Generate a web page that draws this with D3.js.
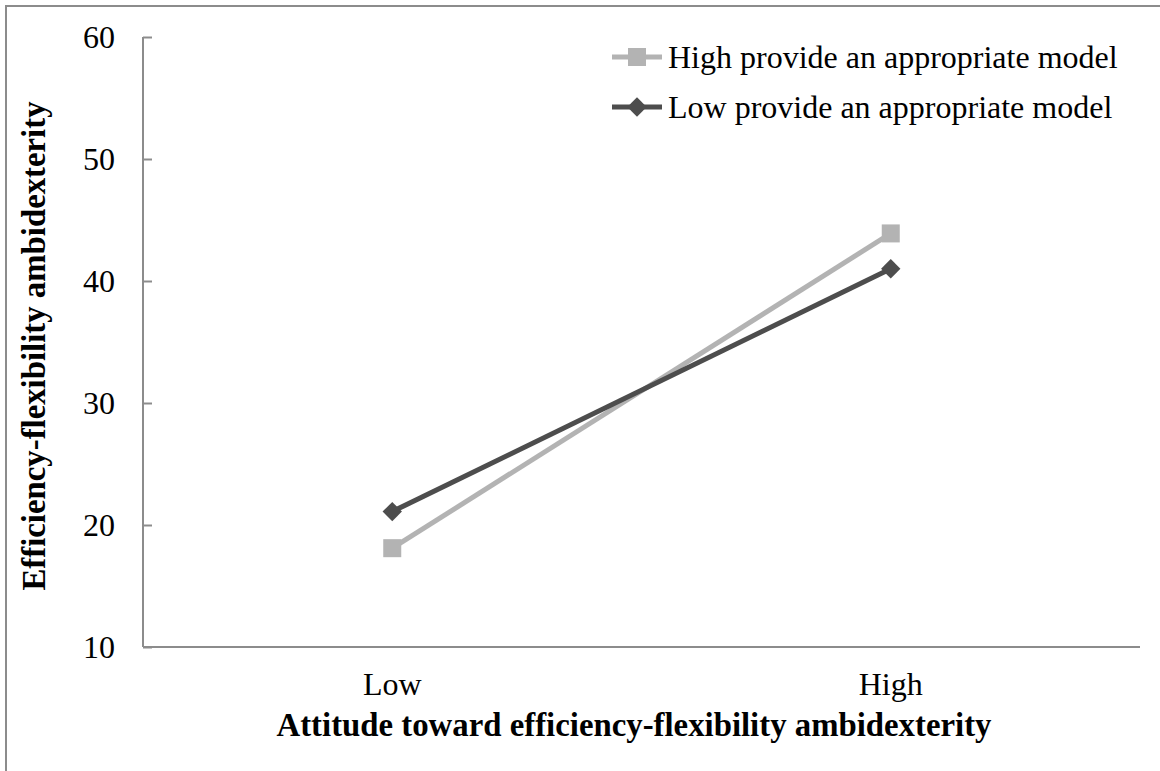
<!DOCTYPE html>
<html>
<head>
<meta charset="utf-8">
<script src="https://cdn.jsdelivr.net/npm/d3@7"></script>
<style>
  body { margin: 0; background: #fff; }
  svg { display: block; font-family: "Liberation Serif", "Times New Roman", serif; }
</style>
</head>
<body>
<div class="chart"></div>
<script>
const categories = ['Low', 'High']
const seriesNames = ['High provide an appropriate model', 'Low provide an appropriate model']
const highProvide = [18.1, 43.9]
const lowProvide = [21.1, 41.0]
const yTicks = [10, 20, 30, 40, 50, 60]

const svg = d3.select('.chart')
    .append('svg')
        .attr('width', 1160)
        .attr('height', 771)

// outer frame (right/bottom edges fall outside the picture)
svg.append('path')
    .attr('d', 'M6,771 V6 H1160')
    .style('fill', 'none')
    .style('stroke', '#8c8c8c')
    .style('stroke-width', 2)

const x = d3.scalePoint()
    .domain(categories)
    .range([143, 1140])
    .padding(0.5)

const y = d3.scaleLinear()
    .domain([10, 60])
    .range([647, 37])

const series = [
    { name: seriesNames[0], values: highProvide, color: '#b3b3b3', marker: 'square' },
    { name: seriesNames[1], values: lowProvide, color: '#4d4d4d', marker: 'diamond' }
]

//y axis
const yAxis = svg.append('g')
    .attr('transform', 'translate(143, 0)')
    .call(d3.axisRight(y).tickValues(yTicks).tickSize(9).tickFormat(d => d))
yAxis.select('.domain').remove()
yAxis.selectAll('line').style('stroke', '#8c8c8c').style('stroke-width', 2)
yAxis.selectAll('text')
    .attr('x', -28)
    .attr('text-anchor', 'end')
    .style('font-family', '"Liberation Serif", serif')
    .style('font-size', '32px')
    .style('fill', '#000')

svg.append('line')
    .attr('x1', 143).attr('x2', 143)
    .attr('y1', y(60)).attr('y2', y(10))
    .style('stroke', '#8c8c8c').style('stroke-width', 2)

//x axis
svg.append('line')
    .attr('x1', 143).attr('x2', 1140)
    .attr('y1', y(10)).attr('y2', y(10))
    .style('stroke', '#8c8c8c').style('stroke-width', 2)

svg.append('g')
    .selectAll('text')
    .data(categories)
    .enter()
    .append('text')
        .attr('x', d => x(d))
        .attr('y', 695)
        .attr('text-anchor', 'middle')
        .style('font-size', '32px')
        .text(d => d)

svg.append('text')
    .attr('x', 634)
    .attr('y', 736)
    .attr('text-anchor', 'middle')
    .style('font-size', '32.8px')
    .style('font-weight', 'bold')
    .text('Attitude toward efficiency-flexibility ambidexterity')

svg.append('text')
    .attr('transform', 'translate(45, 346) rotate(-90)')
    .attr('text-anchor', 'middle')
    .style('font-size', '32.8px')
    .style('font-weight', 'bold')
    .text('Efficiency-flexibility ambidexterity')

//lines and markers
const line = d3.line()
    .x((d, i) => x(categories[i]))
    .y(d => y(d))

const drawMarker = (g, type, color, cx, cy) => {
    if (type === 'square') {
        g.append('rect')
            .attr('x', cx - 9).attr('y', cy - 9)
            .attr('width', 18).attr('height', 18)
            .style('fill', color)
    } else {
        g.append('path')
            .attr('d', d3.symbol(d3.symbolDiamond2, 240)())
            .attr('transform', `translate(${cx},${cy})`)
            .style('fill', color)
    }
}

series.forEach(s => {
    const g = svg.append('g')
    g.append('path')
        .attr('d', line(s.values))
        .style('fill', 'none')
        .style('stroke', s.color)
        .style('stroke-width', 5)
    s.values.forEach((v, i) => drawMarker(g, s.marker, s.color, x(categories[i]), y(v)))
})

//legend
const legend = svg.append('g')
    .attr('transform', 'translate(612, 57)')

series.forEach((s, i) => {
    const g = legend.append('g')
        .attr('transform', `translate(0, ${i * 50})`)
    g.append('line')
        .attr('x1', 0).attr('x2', 50)
        .attr('y1', 0).attr('y2', 0)
        .style('stroke', s.color)
        .style('stroke-width', 5)
    drawMarker(g, s.marker, s.color, 25, 0)
    g.append('text')
        .attr('x', 56)
        .attr('y', 11)
        .style('font-size', '32px')
        .text(s.name)
})
</script>
</body>
</html>
